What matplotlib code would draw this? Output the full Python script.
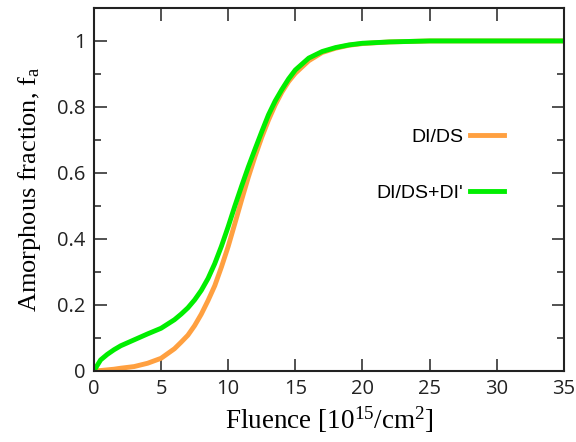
import numpy as np
import matplotlib
matplotlib.use('Agg')
from matplotlib import pyplot as plt
from matplotlib.ticker import MultipleLocator

# fluence values (10^15/cm2)
fluence = [0, 0.5, 1, 1.5, 2, 3, 4, 5, 6, 6.5, 7, 7.5, 8, 8.5, 9, 9.5, 10, 10.5, 11, 11.5,
           12, 12.5, 13, 13.5, 14, 14.5, 15, 16, 17, 18, 19, 20, 22, 25, 30, 35]

# amorphous fraction, DI/DS model
fa_dids = [0, 0.001, 0.003, 0.005, 0.008, 0.013, 0.023, 0.038, 0.067, 0.087, 0.108, 0.137,
           0.172, 0.213, 0.258, 0.315, 0.377, 0.447, 0.518, 0.587, 0.65, 0.708, 0.76, 0.806,
           0.845, 0.877, 0.902, 0.94, 0.965, 0.978, 0.987, 0.992, 0.997, 1.0, 1.0, 1.0]

# amorphous fraction, DI/DS+DI' model
fa_dids_di = [0, 0.033, 0.05, 0.064, 0.076, 0.094, 0.112, 0.129, 0.155, 0.172, 0.191, 0.215,
              0.244, 0.28, 0.325, 0.378, 0.437, 0.5, 0.56, 0.618, 0.672, 0.725, 0.776, 0.818,
              0.853, 0.885, 0.912, 0.948, 0.968, 0.98, 0.988, 0.993, 0.997, 1.0, 1.0, 1.0]

labels = ["DI/DS", "DI/DS+DI'"]

fig = plt.figure(figsize=(5.76, 4.42), dpi=100)
ax = fig.add_axes([0.163, 0.161, 0.816, 0.821])

ax.plot(fluence, fa_dids, color='#ffa040', lw=3.5, label=labels[0])
ax.plot(fluence, fa_dids_di, color='#00ee00', lw=3.5, label=labels[1])

ax.set_xlim(0, 35)
ax.set_ylim(0, 1.1)
ax.xaxis.set_major_locator(MultipleLocator(5))
ax.yaxis.set_minor_locator(MultipleLocator(0.1))
ax.set_yticks([0, 0.2, 0.4, 0.6, 0.8, 1.0])
ax.set_yticklabels(['0', '0.2', '0.4', '0.6', '0.8', '1'])

ax.tick_params(which='both', direction='in', top=True, right=True, color='#333333')
ax.tick_params(which='major', length=9, width=1.2, pad=6)
ax.tick_params(which='minor', length=5, width=1.2)
for lab in ax.get_xticklabels() + ax.get_yticklabels():
    lab.set_family('Open Sans')
    lab.set_fontsize(14.5)
    lab.set_color('#222222')
for sp in ax.spines.values():
    sp.set_linewidth(1.5)
    sp.set_color('#222222')

ax.set_xlabel(r'Fluence [$\mathregular{10^{15}}$/cm$\mathregular{^2}$]', family='Liberation Serif', fontsize=19.5)
ax.set_ylabel(r'Amorphous fraction, f$\mathregular{_a}$', family='Liberation Serif', fontsize=19, labelpad=10)

leg = ax.legend(loc='upper right', bbox_to_anchor=(0.91, 0.717), frameon=False, markerfirst=False,
                handlelength=1.75, handletextpad=0.35, labelspacing=2.0,
                prop={'family': 'Liberation Sans', 'size': 14})

fig.savefig('out.png', dpi=100)
